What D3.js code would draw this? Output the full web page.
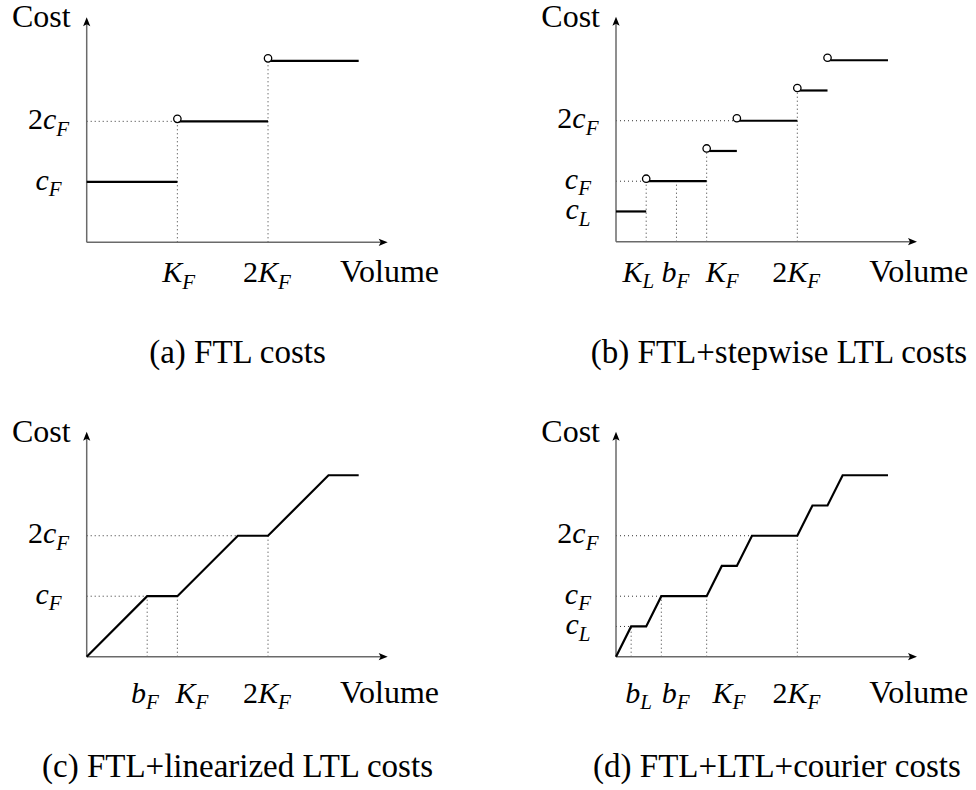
<!DOCTYPE html>
<html>
<head>
<meta charset="utf-8">
<script src="https://cdn.jsdelivr.net/npm/d3@7"></script>
<style>
  html, body { margin: 0; padding: 0; background: #fff; }
  svg { display: block; }
</style>
</head>
<body>
<svg id="fig" width="976" height="790"></svg>
<script>
// Volume is measured in multiples of the FTL capacity K_F, cost in multiples of c_F.

// (a) FTL costs: flat steps [from, to, cost] and open circles [volume, cost]
const stepsA = [[0, 1, 1], [1, 2, 2], [2, 3, 3]];
const openA = [[1, 2], [2, 3]];
const guidesA = [[1, 0, 1, 2], [2, 0, 2, 3], [0, 2, 1, 2]];
const xTicksA = [["K_F", 1.01], ["2K_F", 1.99]];
const yTicksA = [["c_F", 1], ["2c_F", 2]];

// (b) FTL + stepwise LTL costs
const stepsB = [[0, 0.333, 0.5], [0.333, 1, 1], [1, 1.333, 1.5], [1.333, 2, 2], [2, 2.333, 2.5], [2.333, 3, 3]];
const openB = [[0.333, 1], [1, 1.5], [1.333, 2], [2, 2.5], [2.333, 3]];
const guidesB = [[0.333, 0, 0.333, 1], [0.667, 0, 0.667, 1], [1, 0, 1, 1.5], [2, 0, 2, 2.5], [0, 1, 0.333, 1], [0, 2, 1.333, 2]];
const xTicksB = [["K_L", 0.24], ["b_F", 0.656], ["K_F", 1.166], ["2K_F", 1.987]];
const yTicksB = [["c_L", 0.5], ["c_F", 1], ["2c_F", 2]];

// (c) FTL + linearized LTL costs: piecewise-linear cost curve [volume, cost]
const curveC = [[0, 0], [0.667, 1], [1, 1], [1.667, 2], [2, 2], [2.667, 3], [3, 3]];
const guidesC = [[0.667, 0, 0.667, 1], [1, 0, 1, 1], [2, 0, 2, 2], [0, 1, 0.667, 1], [0, 2, 1.667, 2]];
const xTicksC = [["b_F", 0.643], ["K_F", 1.156], ["2K_F", 1.99]];
const yTicksC = [["c_F", 1], ["2c_F", 2]];

// (d) FTL + LTL + courier costs
const curveD = [[0, 0], [0.167, 0.5], [0.333, 0.5], [0.5, 1], [1, 1], [1.167, 1.5], [1.333, 1.5], [1.5, 2], [2, 2], [2.167, 2.5], [2.333, 2.5], [2.5, 3], [3, 3]];
const guidesD = [[0.167, 0, 0.167, 0.5], [0.5, 0, 0.5, 1], [1, 0, 1, 1], [2, 0, 2, 2], [0, 0.5, 0.167, 0.5], [0, 1, 0.5, 1], [0, 2, 1.5, 2]];
const xTicksD = [["b_L", 0.25], ["b_F", 0.66], ["K_F", 1.24], ["2K_F", 1.99]];
const yTicksD = [["c_L", 0.5], ["c_F", 1], ["2c_F", 2]];

const captions = ["(a) FTL costs", "(b) FTL+stepwise LTL costs", "(c) FTL+linearized LTL costs", "(d) FTL+LTL+courier costs"];
const xTitle = "Volume";
const yTitle = "Cost";
const volumeMax = 3.32;   // end of the volume axis arrow
const costMax = 3.72;     // end of the cost axis arrow
const volumeTitleAt = 3.34;

const panels = [
  { origin: [86.7, 242.3], labelDrop: 40, capX: 237.5, capY: 362.7, steps: stepsA, open: openA, guides: guidesA, xTicks: xTicksA, yTicks: yTicksA, caption: captions[0] },
  { origin: [616, 241.7], labelDrop: 40, capX: 779, capY: 362.7, steps: stepsB, open: openB, guides: guidesB, xTicks: xTicksB, yTicks: yTicksB, caption: captions[1] },
  { origin: [86.7, 656.7], labelDrop: 46, capX: 237.5, capY: 776.7, curve: curveC, guides: guidesC, xTicks: xTicksC, yTicks: yTicksC, caption: captions[2] },
  { origin: [616, 656.7], labelDrop: 46, capX: 777, capY: 776.7, curve: curveD, guides: guidesD, xTicks: xTicksD, yTicks: yTicksD, caption: captions[3] }
];

// Pick the first installed serif face by comparing measured widths against fallbacks.
function pickSerif() {
  const ctx = document.createElement("canvas").getContext("2d");
  const sample = "Cost Volume (b) FTL+stepwise LTL costs 2cF";
  const w = f => { ctx.font = "40px " + f; return ctx.measureText(sample).width; };
  const baseMono = w("monospace"), baseSans = w("sans-serif");
  const names = ["Liberation Serif", "DejaVu Serif", "Noto Serif", "Tinos", "Times New Roman", "FreeSerif", "Nimbus Roman", "Times", "Georgia"];
  for (const n of names) {
    const q = `"${n}"`;
    if (w(q + ", monospace") !== baseMono && w(q + ", sans-serif") !== baseSans) return q + ", serif";
  }
  return "serif";
}
const FONT = pickSerif();

const svg = d3.select("#fig");
const FS = 33, TITLE_FS = 32, MATH_FS = 30, SUB = 21, SUBDY = 6.5;

function styled(sel) {
  return sel.attr("font-family", FONT).attr("fill", "#000");
}

// Write "2c_F"-style math: digits upright, letters italic, "_X" as subscript.
function mathText(sel, src) {
  let i = 0;
  while (i < src.length) {
    const ch = src[i];
    if (ch === "_") {
      sel.append("tspan").attr("font-style", "italic").attr("font-size", SUB)
        .attr("dy", SUBDY).text(src[i + 1]);
      if (i + 2 < src.length) sel.append("tspan").attr("dy", -SUBDY).text("\u200B");
      i += 2;
    } else {
      sel.append("tspan").attr("font-style", /[0-9]/.test(ch) ? "normal" : "italic").text(ch);
      i += 1;
    }
  }
}

function drawPanel(p) {
  const x = d3.scaleLinear().domain([0, volumeMax]).range([0, 301]);
  const y = d3.scaleLinear().domain([0, costMax]).range([0, -225]);
  const g = svg.append("g").attr("transform", `translate(${p.origin[0]},${p.origin[1]})`);

  // dotted guide lines
  g.selectAll("line.guide").data(p.guides).join("line")
    .attr("class", "guide")
    .attr("x1", d => x(d[0])).attr("y1", d => y(d[1]))
    .attr("x2", d => x(d[2])).attr("y2", d => y(d[3]))
    .attr("stroke", "#333").attr("stroke-width", 1)
    .attr("stroke-dasharray", "1,3");

  // axes with arrowheads
  const axisColor = "#6a6a6a";
  g.append("line").attr("x1", 0).attr("y1", 0).attr("x2", x(volumeMax) - 6).attr("y2", 0)
    .attr("stroke", axisColor).attr("stroke-width", 1.5);
  g.append("line").attr("x1", 0).attr("y1", 0).attr("x2", 0).attr("y2", y(costMax) + 6)
    .attr("stroke", axisColor).attr("stroke-width", 1.5);
  const xe = x(volumeMax), ye = y(costMax);
  g.append("path").attr("d", `M${xe},0 L${xe - 9},-3.6 L${xe - 7},0 L${xe - 9},3.6 Z`).attr("fill", "#000");
  g.append("path").attr("d", `M0,${ye} L-3.6,${ye + 9} L0,${ye + 7} L3.6,${ye + 9} Z`).attr("fill", "#000");

  // cost function
  if (p.steps) {
    g.selectAll("line.step").data(p.steps).join("line")
      .attr("class", "step")
      .attr("x1", d => x(d[0])).attr("x2", d => x(d[1]))
      .attr("y1", d => y(d[2])).attr("y2", d => y(d[2]))
      .attr("stroke", "#000").attr("stroke-width", 2.2);
    g.selectAll("circle.open").data(p.open).join("circle")
      .attr("class", "open")
      .attr("cx", d => x(d[0])).attr("cy", d => y(d[1]) - 2.5)
      .attr("r", 3.7)
      .attr("fill", "#fff").attr("stroke", "#000").attr("stroke-width", 1.3);
  }
  if (p.curve) {
    const line = d3.line().x(d => x(d[0])).y(d => y(d[1]));
    g.append("path").datum(p.curve).attr("d", line)
      .attr("fill", "none").attr("stroke", "#000").attr("stroke-width", 2.2)
      .attr("stroke-linejoin", "miter");
  }

  // volume labels (centred on their box)
  p.xTicks.forEach(([lab, v]) => {
    const t = styled(g.append("text")).attr("font-size", MATH_FS).attr("y", p.labelDrop);
    mathText(t, lab);
    const b = t.node().getBBox();
    t.attr("x", x(v) - b.width / 2 - b.x);
  });
  styled(g.append("text")).attr("font-size", TITLE_FS).attr("text-anchor", "middle")
    .attr("x", x(volumeTitleAt)).attr("y", p.labelDrop).text(xTitle);

  // cost labels (box centred on the level)
  p.yTicks.forEach(([lab, v]) => {
    const t = styled(g.append("text")).attr("font-size", MATH_FS);
    mathText(t, lab);
    const b = t.node().getBBox();
    t.attr("x", -38 - b.width / 2 - b.x).attr("y", y(v) - (b.y + b.height / 2));
  });
  styled(g.append("text")).attr("font-size", TITLE_FS).attr("text-anchor", "end")
    .attr("x", -16).attr("y", -215).text(yTitle);

  // caption
  styled(svg.append("text")).attr("font-size", FS).attr("text-anchor", "middle")
    .attr("x", p.capX).attr("y", p.capY).text(p.caption);
}

panels.forEach(drawPanel);
</script>
</body>
</html>
